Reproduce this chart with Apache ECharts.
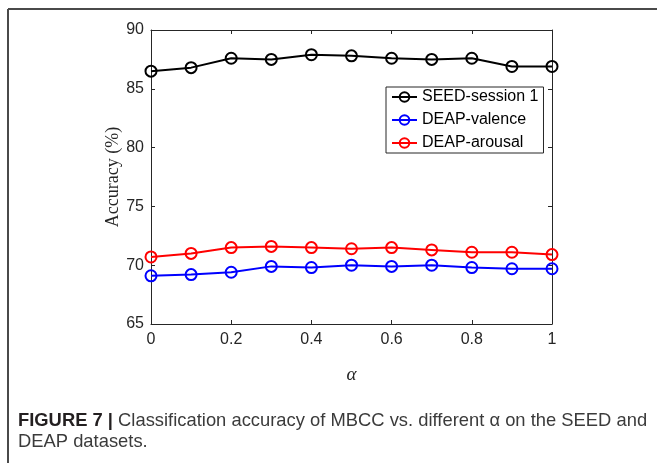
<!DOCTYPE html>
<html>
<head>
<meta charset="utf-8">
<style>
  html, body { margin: 0; padding: 0; background: #fff; }
  #chart { width: 657px; height: 463px; }
</style>
<script src="https://cdn.jsdelivr.net/npm/echarts@6/dist/echarts.min.js"></script>
</head>
<body>
<div id="chart"></div>
<script>
// alpha values on the horizontal axis
const alphas = [0, 0.1, 0.2, 0.3, 0.4, 0.5, 0.6, 0.7, 0.8, 0.9, 1];

// classification accuracy (%) for each dataset
const seedSession1 = [86.5, 86.8, 87.6, 87.5, 87.9, 87.8, 87.6, 87.5, 87.6, 86.9, 86.9];
const deapValence  = [69.1, 69.2, 69.4, 69.9, 69.8, 70.0, 69.9, 70.0, 69.8, 69.7, 69.7];
const deapArousal  = [70.7, 71.0, 71.5, 71.6, 71.5, 71.4, 71.5, 71.3, 71.1, 71.1, 70.9];

const seriesNames = ['SEED-session 1', 'DEAP-valence', 'DEAP-arousal'];
const seriesColors = ['#000000', '#0000ff', '#ff0000'];

const captionBold = 'FIGURE 7 |';
const captionLine1 = ' Classification accuracy of MBCC vs. different \u03b1 on the SEED and';
const captionLine2 = 'DEAP datasets.';

const axisColor = '#262626';

function pairs(values) {
  return alphas.map((a, i) => [a, values[i]]);
}

function lineSeries(name, values, color) {
  return {
    name: name,
    type: 'line',
    data: pairs(values),
    xAxisIndex: 0,
    yAxisIndex: 0,
    symbol: 'circle',
    symbolSize: 11,
    showAllSymbol: true,
    lineStyle: { color: color, width: 2 },
    itemStyle: { color: 'rgba(255,255,255,0)', borderColor: color, borderWidth: 2 },
    emphasis: { disabled: true },
    animation: false,
    z: 3
  };
}

const chart = echarts.init(document.getElementById('chart'), null, { renderer: 'canvas' });

const tickCommon = { show: true, inside: true, length: 4, lineStyle: { color: axisColor, width: 1 } };
const lineCommon = { show: true, onZero: false, lineStyle: { color: axisColor, width: 1 } };

chart.setOption({
  backgroundColor: '#ffffff',
  animation: false,
  grid: { left: 151, right: 105, top: 30, bottom: 139, containLabel: false },
  xAxis: [
    {
      type: 'value', min: 0, max: 1, interval: 0.2, position: 'bottom',
      axisLine: lineCommon, axisTick: tickCommon, splitLine: { show: false },
      axisLabel: { color: axisColor, fontFamily: 'Liberation Sans', fontSize: 16, margin: 8 },
      name: '\u03b1', nameLocation: 'middle', nameGap: 41,
      nameTextStyle: { fontFamily: 'Liberation Serif', fontStyle: 'italic', fontSize: 19, color: axisColor }
    },
    {
      type: 'value', min: 0, max: 1, interval: 0.2, position: 'top',
      axisLine: lineCommon, axisTick: tickCommon, splitLine: { show: false },
      axisLabel: { show: false }
    }
  ],
  yAxis: [
    {
      type: 'value', min: 65, max: 90, interval: 5, position: 'left',
      axisLine: lineCommon, axisTick: tickCommon, splitLine: { show: false },
      axisLabel: { color: axisColor, fontFamily: 'Liberation Sans', fontSize: 16, margin: 7 },
      name: 'Accuracy (%)', nameLocation: 'middle', nameGap: 29, nameMoveOverlap: false,
      nameTextStyle: { fontFamily: 'Liberation Serif', fontSize: 18, color: axisColor }
    },
    {
      type: 'value', min: 65, max: 90, interval: 5, position: 'right',
      axisLine: lineCommon, axisTick: tickCommon, splitLine: { show: false },
      axisLabel: { show: false }
    }
  ],
  legend: {
    orient: 'vertical',
    left: 386, top: 87,
    padding: [2, 5, 2, 5],
    itemGap: 7,
    itemWidth: 25,
    itemHeight: 12,
    borderColor: axisColor,
    borderWidth: 1,
    backgroundColor: '#ffffff',
    selectedMode: false,
    textStyle: { fontFamily: 'Liberation Sans', fontSize: 16, color: '#000000' },
    data: seriesNames
  },
  series: [
    lineSeries(seriesNames[0], seedSession1, seriesColors[0]),
    lineSeries(seriesNames[1], deapValence, seriesColors[1]),
    lineSeries(seriesNames[2], deapArousal, seriesColors[2])
  ],
  graphic: [
    // figure frame: top rule and left rule
    { type: 'line', silent: true, shape: { x1: 8, y1: 9, x2: 657, y2: 9 }, style: { stroke: '#4a4a4a', lineWidth: 2 } },
    { type: 'line', silent: true, shape: { x1: 8, y1: 9, x2: 8, y2: 463 }, style: { stroke: '#4a4a4a', lineWidth: 2 } },
    // caption
    {
      type: 'text', silent: true, x: 18, y: 411, scaleX: 0.967,
      style: {
        text: '{b|' + captionBold + '}{r|' + captionLine1 + '}',
        verticalAlign: 'top',
        rich: {
          b: { fontFamily: 'Liberation Sans', fontWeight: 'bold', fontSize: 19, fill: '#231f20' },
          r: { fontFamily: 'Liberation Sans', fontSize: 19, fill: '#3b3b3b' }
        }
      }
    },
    {
      type: 'text', silent: true, x: 18, y: 432, scaleX: 0.967,
      style: {
        text: captionLine2,
        verticalAlign: 'top',
        fontFamily: 'Liberation Sans', fontSize: 19, fill: '#3b3b3b'
      }
    }
  ]
});
</script>
</body>
</html>
